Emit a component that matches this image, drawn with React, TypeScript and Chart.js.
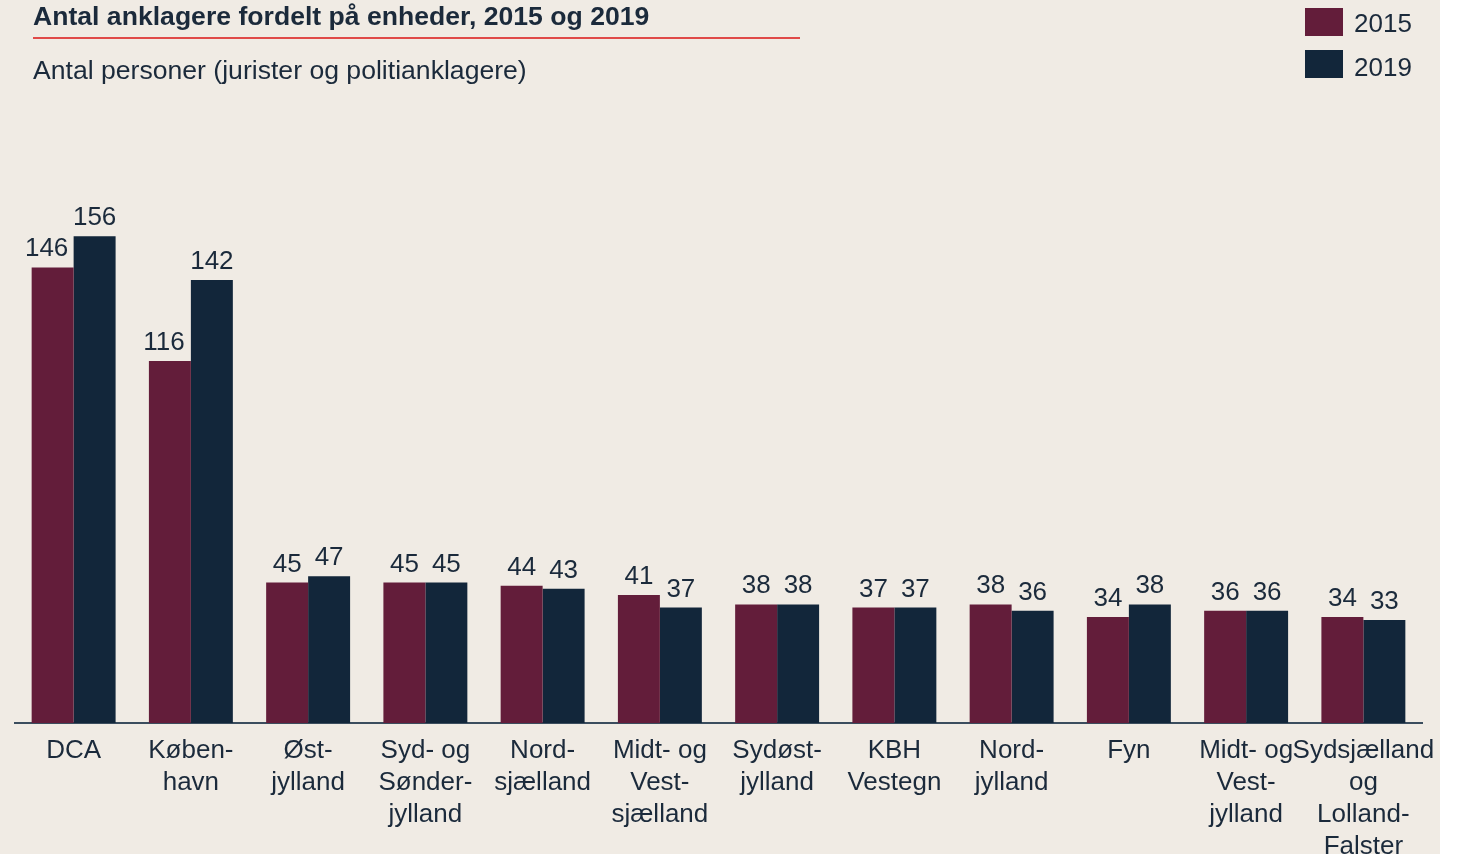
import React, { useEffect, useRef } from "react";
import { Chart, registerables } from "chart.js";

Chart.register(...registerables);

const categories: (string | string[])[] = [
  "DCA",
  ["Køben-", "havn"],
  ["Øst-", "jylland"],
  ["Syd- og", "Sønder-", "jylland"],
  ["Nord-", "sjælland"],
  ["Midt- og", "Vest-", "sjælland"],
  ["Sydøst-", "jylland"],
  ["KBH", "Vestegn"],
  ["Nord-", "jylland"],
  "Fyn",
  ["Midt- og", "Vest-", "jylland"],
  ["Sydsjælland", "og", "Lolland-", "Falster"],
];
const values2015 = [146, 116, 45, 45, 44, 41, 38, 37, 38, 34, 36, 34];
const values2019 = [156, 142, 47, 45, 43, 37, 38, 37, 36, 38, 36, 33];
const seriesLabels = ["2015", "2019"];

const TITLE = "Antal anklagere fordelt på enheder, 2015 og 2019";
const SUBTITLE = "Antal personer (jurister og politianklagere)";

const C2015 = "#631d3a";
const C2019 = "#12263a";
const TEXT = "#1b2a3b";
const BG = "#f0ebe4";
const FONT = "'Liberation Sans', Arial, sans-serif";

const valueLabels = {
  id: "valueLabels",
  afterDatasetsDraw(chart: any) {
    const ctx = chart.ctx;
    ctx.save();
    ctx.font = `26px ${FONT}`;
    ctx.fillStyle = TEXT;
    ctx.textAlign = "center";
    ctx.textBaseline = "alphabetic";
    chart.data.datasets.forEach((ds: any, di: number) => {
      const meta = chart.getDatasetMeta(di);
      meta.data.forEach((el: any, i: number) => {
        const txt = String(ds.data[i]);
        const w = ctx.measureText(txt).width;
        // wide labels on the left bar are nudged left to clear the neighbouring label
        const shift = di === 0 && w > el.width - 4 ? -6 : 0;
        ctx.fillText(txt, el.x + shift, el.y - 11);
      });
    });
    ctx.restore();
  },
};

export default function App() {
  const ref = useRef<HTMLCanvasElement | null>(null);
  useEffect(() => {
    if (!ref.current) return;
    const chart = new Chart(ref.current, {
      type: "bar",
      data: {
        labels: categories,
        datasets: [
          { label: seriesLabels[0], data: values2015, backgroundColor: C2015 },
          { label: seriesLabels[1], data: values2019, backgroundColor: C2019 },
        ],
      },
      options: {
        animation: false,
        responsive: false,
        maintainAspectRatio: false,
        layout: { padding: { left: 15, right: 39, top: 99, bottom: 0 } },
        datasets: {
          bar: { categoryPercentage: 0.716, barPercentage: 1 },
        },
        plugins: {
          legend: { display: false },
          tooltip: { enabled: false },
          title: { display: false },
        },
        scales: {
          x: {
            grid: { display: false, drawTicks: false },
            border: { display: true, color: "#3b4d5e", width: 2 },
            ticks: {
              color: TEXT,
              font: { family: FONT, size: 26, lineHeight: 32 / 26 },
              padding: 12,
              maxRotation: 0,
              autoSkip: false,
            },
          },
          y: {
            display: false,
            min: 0,
            max: 200,
          },
        },
      },
      plugins: [valueLabels],
    });
    return () => chart.destroy();
  }, []);

  return (
    <div
      style={{
        position: "fixed",
        left: 0,
        top: 0,
        width: 1461,
        height: 854,
        background: "#ffffff",
        overflow: "hidden",
        fontFamily: FONT,
      }}
    >
      <div
        style={{
          position: "absolute",
          left: 0,
          top: 0,
          width: 1440,
          height: 854,
          background: BG,
        }}
      />
      <canvas
        ref={ref}
        width={1461}
        height={875}
        style={{ position: "absolute", left: 0, top: 0, width: 1461, height: 875 }}
      />
      <div
        style={{
          position: "absolute",
          left: 33,
          top: 1,
          fontSize: 26.6,
          lineHeight: "30px",
          fontWeight: 700,
          color: TEXT,
          whiteSpace: "nowrap",
        }}
      >
        {TITLE}
      </div>
      <div
        style={{
          position: "absolute",
          left: 33,
          top: 37,
          width: 767,
          height: 2,
          background: "#e04a48",
        }}
      />
      <div
        style={{
          position: "absolute",
          left: 33,
          top: 55,
          fontSize: 26.6,
          lineHeight: "30px",
          color: TEXT,
          whiteSpace: "nowrap",
        }}
      >
        {SUBTITLE}
      </div>
      {seriesLabels.map((s, i) => (
        <div key={s}>
          <div
            style={{
              position: "absolute",
              left: 1305,
              top: i === 0 ? 8 : 50,
              width: 38,
              height: 28,
              background: i === 0 ? C2015 : C2019,
            }}
          />
          <div
            style={{
              position: "absolute",
              left: 1354,
              top: i === 0 ? 8 : 52,
              fontSize: 26,
              lineHeight: "30px",
              color: TEXT,
            }}
          >
            {s}
          </div>
        </div>
      ))}
    </div>
  );
}
